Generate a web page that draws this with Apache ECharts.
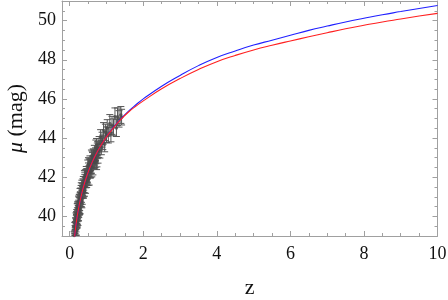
<!DOCTYPE html>
<html><head><meta charset="utf-8">
<script src="https://cdn.jsdelivr.net/npm/echarts@6/dist/echarts.min.js"></script>
<style>html,body{margin:0;padding:0;background:#fff}#c{width:448px;height:300px}</style>
</head><body><div id="c"></div>
<script>
// model curves
const curveZ = [0.1,0.15,0.2,0.25,0.3,0.4,0.5,0.6,0.7,0.8,0.9,1.0,1.2,1.4,1.6,1.8,2.0,2.5,3.0,3.5,4.0,4.5,5.0,5.5,6.0,6.5,7.0,7.5,8.0,8.5,9.0,9.5,10.0];
const blueMu = [38.3,39.27,39.96,40.5,40.95,41.68,42.25,42.72,43.12,43.47,43.78,44.07,44.57,45.0,45.38,45.7,46.0,46.65,47.2,47.7,48.12,48.45,48.75,49.0,49.25,49.5,49.72,49.93,50.12,50.3,50.46,50.62,50.77];
const redMu  = [38.3,39.27,39.96,40.5,40.95,41.68,42.25,42.72,43.12,43.47,43.78,44.06,44.55,44.97,45.33,45.63,45.9,46.52,47.04,47.5,47.9,48.22,48.5,48.74,48.96,49.17,49.38,49.58,49.76,49.93,50.08,50.23,50.37];
// supernova data
const snZ = [0.12,0.125,0.13,0.135,0.14,0.14,0.145,0.15,0.15,0.155,
  0.16,0.16,0.165,0.17,0.17,0.175,0.18,0.18,0.185,0.19,
  0.19,0.195,0.20,0.20,0.205,0.21,0.21,0.215,0.22,0.22,
  0.225,0.23,0.23,0.235,0.24,0.24,0.245,0.25,0.25,0.255,
  0.26,0.26,0.27,0.27,0.28,0.28,0.29,0.29,0.30,0.30,
  0.31,0.31,0.32,0.32,0.33,0.34,0.34,0.35,0.36,0.36,
  0.37,0.38,0.38,0.39,0.40,0.40,0.41,0.42,0.43,0.44,
  0.45,0.46,0.47,0.48,0.49,0.50,0.51,0.52,0.53,0.54,
  0.55,0.56,0.57,0.58,0.59,0.60,0.62,0.63,0.64,0.66,
  0.67,0.68,0.70,0.71,0.73,0.74,0.76,0.78,0.80,0.82,
  0.84,0.86,0.88,0.90,0.92,0.95,0.97,1.00,1.02,1.05,
  1.09,1.12,1.15,1.19,1.23,1.27,1.30,1.34,1.39,1.41,
  0.155,0.165,0.175,0.185,0.195,0.205,0.215,0.225,0.235,0.245,
  0.255,0.265,0.275,0.285,0.295,0.305,0.315,0.33,0.35,0.37,
  0.39,0.41,0.43,0.45,0.47,0.49,0.51,0.53,0.55,0.57,
  0.59,0.61,0.63,0.65,0.67,0.69,0.71,0.73,0.75,0.77];
const snMu = [39.02,38.51,38.95,38.85,39.49,38.69,39.33,39.22,39.52,39.15,
  39.72,39.12,39.54,39.41,39.96,39.23,39.85,39.65,40.02,39.63,
  40.13,39.6,40.01,39.81,40.42,39.67,40.22,40.08,40.43,39.98,
  40.54,39.99,40.34,40.2,40.8,40.0,40.6,40.45,40.75,40.35,
  40.89,40.29,40.73,40.53,41.18,40.38,41.02,40.82,41.2,40.75,
  41.33,40.73,41.16,40.96,41.59,40.86,41.41,41.29,41.66,41.21,
  41.78,41.25,41.6,41.47,42.08,41.28,41.89,41.75,42.11,41.72,
  42.28,41.74,42.15,42.0,42.6,41.85,42.45,42.3,42.65,42.25,
  42.8,42.24,42.64,42.48,43.08,42.32,42.95,42.79,43.13,42.76,
  43.3,42.74,43.17,43.01,43.63,42.86,43.48,43.35,43.72,43.33,
  44.05,43.51,43.92,43.78,44.39,43.68,44.29,44.17,44.52,44.15,
  44.75,44.23,44.65,44.55,45.09,44.52,45.09,44.98,45.18,45.07,
  39.25,39.69,39.28,39.87,39.9,39.82,40.48,39.79,40.4,40.2,
  40.45,40.84,40.38,40.93,40.91,40.79,41.42,40.74,41.39,41.23,
  41.52,41.94,41.51,42.08,42.1,42.0,42.65,41.95,42.55,42.34,
  42.58,42.96,42.49,43.02,43.0,42.88,43.51,42.78,43.35,43.12];
const snErr = [0.2,0.2,0.2,0.2,0.2,0.2,0.2,0.2,0.2,0.2,
  0.21,0.2,0.21,0.2,0.22,0.2,0.21,0.2,0.22,0.21,
  0.22,0.21,0.22,0.21,0.23,0.21,0.22,0.21,0.23,0.22,
  0.23,0.22,0.23,0.22,0.24,0.22,0.23,0.22,0.24,0.23,
  0.24,0.23,0.24,0.23,0.25,0.23,0.24,0.23,0.25,0.24,
  0.25,0.24,0.25,0.24,0.26,0.24,0.25,0.24,0.26,0.25,
  0.26,0.25,0.26,0.25,0.27,0.25,0.26,0.25,0.27,0.26,
  0.27,0.26,0.27,0.26,0.28,0.27,0.28,0.27,0.29,0.28,
  0.29,0.28,0.3,0.29,0.31,0.3,0.31,0.3,0.32,0.31,
  0.33,0.32,0.33,0.32,0.35,0.33,0.35,0.34,0.36,0.35,
  0.38,0.36,0.38,0.37,0.4,0.38,0.42,0.4,0.42,0.4,
  0.45,0.42,0.46,0.43,0.45,0.44,0.45,0.42,0.43,0.4,
  0.22,0.22,0.23,0.23,0.24,0.24,0.25,0.25,0.26,0.26,
  0.27,0.27,0.28,0.28,0.29,0.29,0.3,0.3,0.31,0.31,
  0.32,0.32,0.33,0.33,0.34,0.34,0.35,0.35,0.36,0.36,
  0.37,0.37,0.37,0.38,0.38,0.38,0.39,0.39,0.4,0.4];
// ticks
const xMajor = [0,2,4,6,8,10];
const yMajor = [40,42,44,46,48,50];

const xMinor = [], yMinor = [];
for (let v = 0.5; v < 10; v += 0.5) if (!xMajor.includes(v)) xMinor.push(v);
for (let v = 39.5; v <= 50.5; v += 0.5) if (!yMajor.includes(v)) yMinor.push(v);

const FONT = '"Liberation Serif","Times New Roman",serif';
const FRAME = '#a0a0a0';
const XMIN = -0.21, XMAX = 10, YMIN = 39, YMAX = 51;

function xAx(pos, ticks, len, showLine, labels, extra) {
  return Object.assign({
    type: 'value', position: pos, min: XMIN, max: XMAX,
    axisLine: {show: showLine, onZero: false, lineStyle: {color: FRAME, width: 1}},
    axisTick: {show: true, inside: true, length: len, customValues: ticks, lineStyle: {color: FRAME, width: 1}},
    axisLabel: labels ? {show: true, customValues: ticks, color: '#111', fontFamily: FONT, fontSize: 18, margin: 9} : {show: false},
    splitLine: {show: false}
  }, extra || {});
}
function yAx(pos, ticks, len, showLine, labels, extra) {
  return Object.assign({
    type: 'value', position: pos, min: YMIN, max: YMAX,
    axisLine: {show: showLine, onZero: false, lineStyle: {color: FRAME, width: 1}},
    axisTick: {show: true, inside: true, length: len, customValues: ticks, lineStyle: {color: FRAME, width: 1}},
    axisLabel: labels ? {show: true, customValues: ticks, color: '#111', fontFamily: FONT, fontSize: 18, margin: 6} : {show: false},
    splitLine: {show: false}
  }, extra || {});
}

const n = Math.min(snZ.length, snMu.length, snErr.length);
const sn = snZ.slice(0, n).map((z, i) => [z, snMu[i], snErr[i]]);
const blue = curveZ.map((z, i) => [z, blueMu[i]]);
const red = curveZ.map((z, i) => [z, redMu[i]]);

const chart = echarts.init(document.getElementById('c'), null, {renderer: 'canvas'});
chart.setOption({
  animation: false,
  backgroundColor: '#fff',
  grid: {left: 62, right: 10.5, top: 1, bottom: 64, containLabel: false, outerBoundsMode: 'none'},
  xAxis: [
    xAx('bottom', xMajor, 5, true, true, {name: 'z', nameLocation: 'middle', nameGap: 41,
      nameTextStyle: {fontFamily: FONT, fontSize: 22, color: '#111'}}),
    xAx('bottom', xMinor, 3, false, false),
    xAx('top', xMajor, 5, true, false),
    xAx('top', xMinor, 3, false, false)
  ],
  yAxis: [
    yAx('left', yMajor, 5, true, true, {name: '{i|μ} (mag)', nameLocation: 'middle', nameGap: 34, nameRotate: 90,
      nameTextStyle: {fontFamily: FONT, fontSize: 22, color: '#111', rich: {i: {fontFamily: FONT, fontSize: 22, fontStyle: 'italic', color: '#111'}}}}),
    yAx('left', yMinor, 3, false, false),
    yAx('right', yMajor, 5, true, false),
    yAx('right', yMinor, 3, false, false)
  ],
  series: [
    {type: 'line', xAxisIndex: 0, yAxisIndex: 0, data: blue, smooth: true, showSymbol: false, clip: true,
      lineStyle: {color: '#2020ff', width: 1.1}},
    {type: 'line', xAxisIndex: 0, yAxisIndex: 0, data: red, smooth: true, showSymbol: false, clip: true,
      lineStyle: {color: '#ff2020', width: 1.1}},
    {
      type: 'custom', xAxisIndex: 0, yAxisIndex: 0, clip: true, data: sn,
      renderItem: function (params, api) {
        const z = api.value(0), m = api.value(1), e = api.value(2);
        const lo = api.coord([z, m - e]), hi = api.coord([z, m + e]);
        const w = 3.5;
        const st = {stroke: '#555555', lineWidth: 1};
        return {type: 'group', children: [
          {type: 'line', shape: {x1: lo[0], y1: lo[1], x2: hi[0], y2: hi[1]}, style: st},
          {type: 'line', shape: {x1: lo[0] - w, y1: lo[1], x2: lo[0] + w, y2: lo[1]}, style: st},
          {type: 'line', shape: {x1: hi[0] - w, y1: hi[1], x2: hi[0] + w, y2: hi[1]}, style: st}
        ]};
      }
    },
    {type: 'scatter', xAxisIndex: 0, yAxisIndex: 0, data: sn.map(d => [d[0], d[1]]), symbol: 'circle', symbolSize: 3.5,
      itemStyle: {color: '#4a4a4a'}, clip: true}
  ]
});
</script>
</body></html>
